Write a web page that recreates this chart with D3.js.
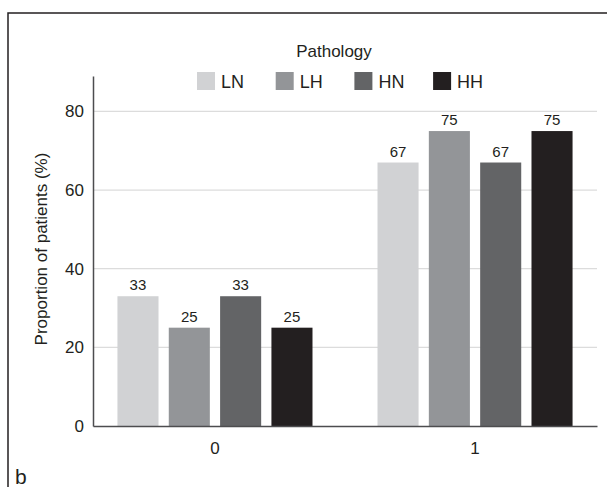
<!DOCTYPE html>
<html>
<head>
<meta charset="utf-8">
<script src="https://cdn.jsdelivr.net/npm/d3@7"></script>
<style>
  body { margin: 0; background: #fff; }
  text { font-family: "Liberation Sans", Arial, Helvetica, sans-serif; fill: #231f20; }
</style>
</head>
<body>
<div id="chart"></div>
<script>
// data
var groups = ["0", "1"];
var pathology = ["LN", "LH", "HN", "HH"];
var group0Values = [33, 25, 33, 25];
var group1Values = [67, 75, 67, 75];
var yTicks = [0, 20, 40, 60, 80];
var colors = ["#d1d2d4", "#939598", "#636466", "#231f20"];

var W = 607, H = 487;
var margin = { top: 76, right: 10, bottom: 61, left: 93 };
var width = 597 - margin.left,
    height = 426 - margin.top;

var svg = d3.select("#chart")
    .append("svg")
    .attr("width", W)
    .attr("height", H);

// frame (top and left edge only)
svg.append("path")
    .attr("d", "M8,487 L8,13 L607,13")
    .attr("fill", "none")
    .attr("stroke", "#231f20")
    .attr("stroke-width", 1.5);

svg.append("text")
    .attr("x", 15)
    .attr("y", 484)
    .style("font-size", "21px")
    .text("b");

var g = svg.append("g")
    .attr("transform", "translate(" + margin.left + "," + margin.top + ")");

var rows = groups.map(function(grp, i) {
    var vals = i == 0 ? group0Values : group1Values;
    return { group: grp, values: vals };
});

var x0 = d3.scaleBand()
    .domain(groups)
    .range([0, width])
    .paddingInner(0.25)
    .paddingOuter(0.094);

var x1 = d3.scaleBand()
    .domain(pathology)
    .range([0, x0.bandwidth()])
    .paddingInner(0.2)
    .paddingOuter(0);

var y = d3.scaleLinear()
    .domain([0, 89])
    .range([height, 0]);

// grid lines
g.append("g")
    .selectAll("line")
    .data(yTicks.filter(function(d) { return d > 0; }))
    .enter()
    .append("line")
    .attr("x1", 0)
    .attr("x2", width)
    .attr("y1", function(d) { return y(d); })
    .attr("y2", function(d) { return y(d); })
    .attr("stroke", "#dcdcdc")
    .attr("stroke-width", 1.2);

// y axis
var yAxis = g.append("g")
    .call(d3.axisLeft(y).tickValues(yTicks).tickSize(0).tickPadding(9));
yAxis.select(".domain").attr("stroke", "#4d4d4f").attr("stroke-width", 1.5);
yAxis.selectAll("text")
    .style("font-size", "17px")
    .style("font-family", "'Liberation Sans', Arial, sans-serif")
    .attr("fill", "#231f20");

// bars
var grp = g.selectAll(".grp")
    .data(rows)
    .enter()
    .append("g")
    .attr("class", "grp")
    .attr("transform", function(d) { return "translate(" + x0(d.group) + ",0)"; });

grp.selectAll("rect")
    .data(function(d) { return d.values.map(function(v, j) { return { key: pathology[j], value: v }; }); })
    .enter()
    .append("rect")
    .attr("x", function(d) { return x1(d.key); })
    .attr("y", function(d) { return y(d.value); })
    .attr("width", x1.bandwidth())
    .attr("height", function(d) { return height - y(d.value); })
    .attr("fill", function(d, j) { return colors[j]; });

grp.selectAll(".val")
    .data(function(d) { return d.values.map(function(v, j) { return { key: pathology[j], value: v }; }); })
    .enter()
    .append("text")
    .attr("class", "val")
    .attr("x", function(d) { return x1(d.key) + x1.bandwidth() / 2; })
    .attr("y", function(d) { return y(d.value) - 6; })
    .attr("text-anchor", "middle")
    .style("font-size", "15px")
    .text(function(d) { return d.value; });

// x axis
var xAxis = g.append("g")
    .attr("transform", "translate(0," + height + ")")
    .call(d3.axisBottom(x0).tickSize(0).tickPadding(16));
xAxis.select(".domain").attr("stroke", "#4d4d4f").attr("stroke-width", 1.5);
xAxis.selectAll("text")
    .style("font-size", "17px")
    .style("font-family", "'Liberation Sans', Arial, sans-serif")
    .attr("fill", "#231f20");

// y label
svg.append("text")
    .attr("transform", "translate(47,249) rotate(-90)")
    .attr("text-anchor", "middle")
    .style("font-size", "17px")
    .text("Proportion of patients (%)");

// legend
svg.append("text")
    .attr("x", 334)
    .attr("y", 57)
    .attr("text-anchor", "middle")
    .style("font-size", "17px")
    .text("Pathology");

var legend = svg.selectAll(".leg")
    .data(pathology)
    .enter()
    .append("g")
    .attr("class", "leg")
    .attr("transform", function(d, i) { return "translate(" + (197 + i * 78.7) + ",72)"; });

legend.append("rect")
    .attr("width", 18)
    .attr("height", 18)
    .attr("fill", function(d, i) { return colors[i]; });

legend.append("text")
    .attr("x", 24)
    .attr("y", 16)
    .style("font-size", "18px")
    .text(function(d) { return d; });
</script>
</body>
</html>
